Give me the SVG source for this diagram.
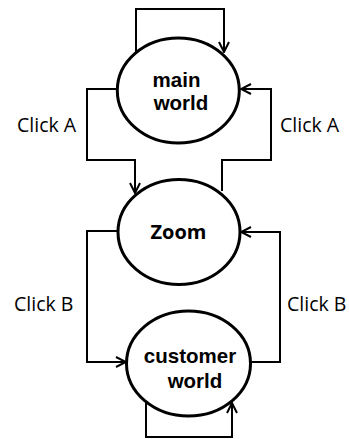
<svg xmlns="http://www.w3.org/2000/svg" width="349" height="439" viewBox="0 0 349 439">
  <defs>
    <marker id="arrow" viewBox="0 0 12 12" refX="11" refY="6" markerWidth="12" markerHeight="12" markerUnits="userSpaceOnUse" orient="auto">
      <polyline points="1,1 11,6 1,11" fill="none" stroke="#000" stroke-width="2"/>
    </marker>
  </defs>
  <style>
    .node { fill: #fff; stroke: #000; stroke-width: 3; }
    .edge { fill: none; stroke: #000; stroke-width: 2; marker-end: url(#arrow); }
    .name { font-family: "Liberation Sans", Arial, sans-serif; font-weight: bold; font-size: 20.5px; text-anchor: middle; fill: #000; }
    .zoomname { font-family: "Open Sans", sans-serif; font-weight: bold; font-size: 20px; text-anchor: middle; fill: #000; }
    .label { font-family: "Open Sans", sans-serif; font-size: 19.5px; fill: #000; }
  </style>

  <g id="edges">
    <!-- main world self loop -->
    <polyline class="edge" points="136,52 136,9 224,9 224,52"/>
    <!-- main world to Zoom (left) -->
    <polyline class="edge" points="117,89 87,89 87,160 135,160 135,193"/>
    <!-- Zoom to main world (right) -->
    <polyline class="edge" points="222,191 222,160 271,160 271,89 241,89"/>
    <!-- Zoom to customer world (left) -->
    <polyline class="edge" points="118,231 87,231 87,362 126,362"/>
    <!-- customer world to Zoom (right) -->
    <polyline class="edge" points="251,362 280,362 280,232 241,232"/>
    <!-- customer world self loop -->
    <polyline class="edge" points="146,403 146,437 232,437 232,403"/>
  </g>

  <g id="labels">
    <text class="label" x="17" y="132">Click A</text>
    <text class="label" x="280" y="132">Click A</text>
    <text class="label" x="14" y="311">Click B</text>
    <text class="label" x="287" y="311">Click B</text>
  </g>

  <g id="main-world">
    <ellipse class="node" cx="178.3" cy="90.5" rx="61" ry="52.5"/>
    <text class="name" x="176.5" y="87">main</text>
    <text class="name" x="181" y="110">world</text>
  </g>

  <g id="zoom">
    <ellipse class="node" cx="179" cy="232" rx="61" ry="52.5"/>
    <text class="zoomname" x="178.5" y="239">Zoom</text>
  </g>

  <g id="customer-world">
    <ellipse class="node" cx="188.5" cy="363.5" rx="62" ry="52.5"/>
    <text class="name" x="190" y="363">customer</text>
    <text class="name" x="195" y="388">world</text>
  </g>
</svg>
